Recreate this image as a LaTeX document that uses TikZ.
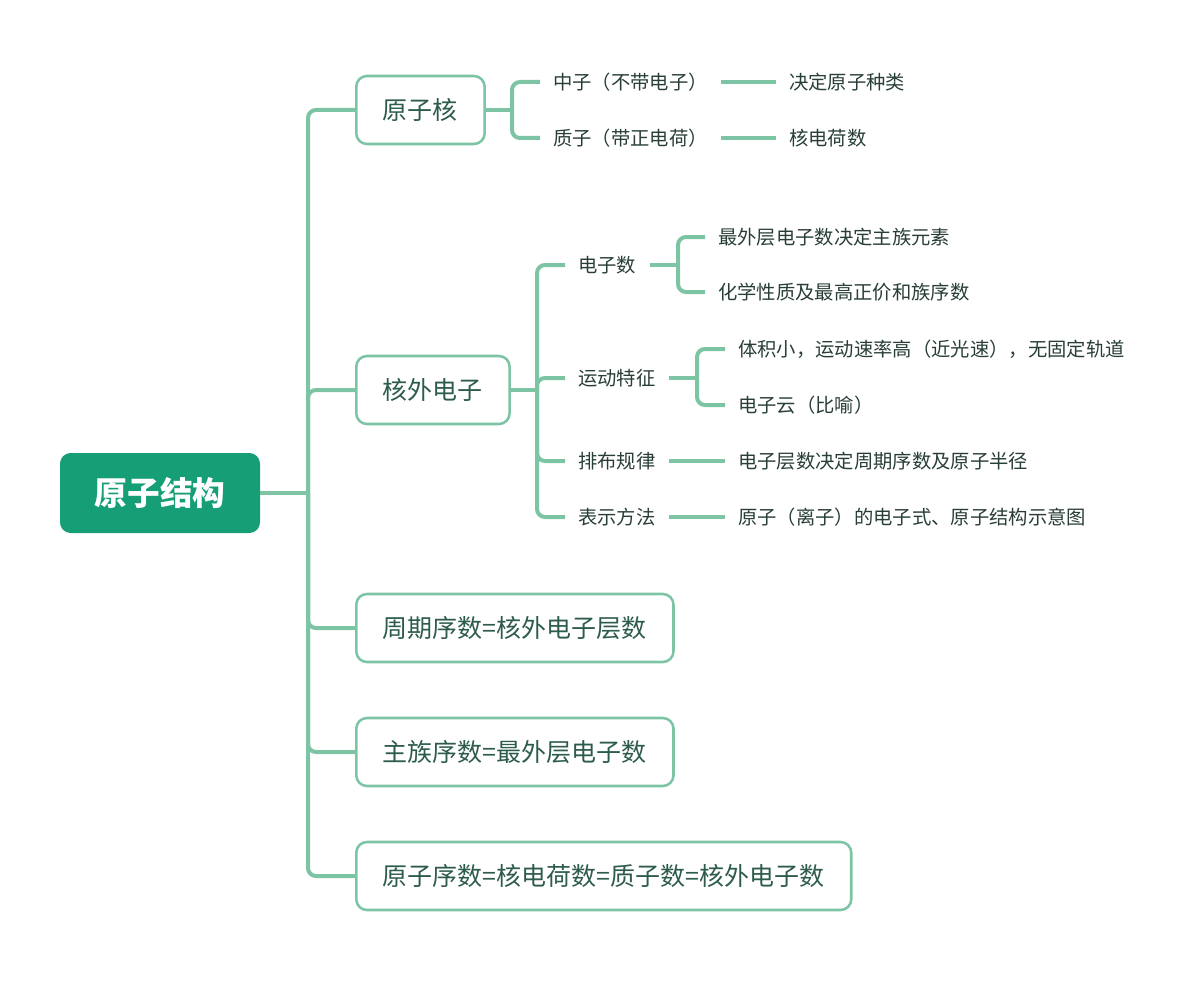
\documentclass[tikz,border=0pt]{standalone}
\usepackage{fontspec}
\setmainfont{Noto Sans CJK SC}
\usepackage{tikz}
\usetikzlibrary{calc, positioning}
\definecolor{linegreen}{RGB}{125,196,165}
\definecolor{rootgreen}{RGB}{22,158,118}
\definecolor{boxtext}{RGB}{46,92,76}
\definecolor{leaftext}{RGB}{40,62,54}
\tikzset{
  link/.style={draw=linegreen, line width=3pt, rounded corners=6pt},
  rootbox/.style={fill=rootgreen, rounded corners=8pt, minimum width=150pt, minimum height=60pt, text=white, font=\fontsize{24.5}{28}\selectfont\bfseries},
  topicbox/.style={draw=linegreen, fill=white, line width=1.9pt, rounded corners=8pt, minimum height=51pt, inner xsep=20pt, text=boxtext, font=\fontsize{18.75}{22}\selectfont},
  leaf/.style={inner xsep=9.75pt, inner ysep=2pt, text=leaftext, font=\fontsize{14.5}{17}\selectfont}
}

\begin{document}
\begin{tikzpicture}[x=0.75pt, y=-0.75pt]
    \useasboundingbox (0,0) rectangle (1192,988);

    %le centre
    \node [rootbox] (root) at (160,493) {原子结构};

    %les branches principales
    \node [topicbox, anchor=west] (nucleus) at (355,110) {原子核};
    \node [topicbox, anchor=west] (electrons) at (355,390) {核外电子};
    \node [topicbox, anchor=west] (period) at (355,628) {周期序数=核外电子层数};
    \node [topicbox, anchor=west] (group) at (355,752) {主族序数=最外层电子数};
    \node [topicbox, anchor=west] (atomicno) at (355,876) {原子序数=核电荷数=质子数=核外电子数};

    %le tronc
    \coordinate (trunk) at (308,493);
    \draw [link] (root.east) -- (trunk);
    \foreach \b in {nucleus, electrons, period, group, atomicno}
      \draw [link] (trunk) |- (\b.west);

    %noyau
    \node [leaf, anchor=west] (neutron) at (540,82) {中子（不带电子）};
    \node [leaf, anchor=west] (proton) at (540,138) {质子（带正电荷）};
    \node [leaf, anchor=west] (kind) at (776,82) {决定原子种类};
    \node [leaf, anchor=west] (charge) at (776,138) {核电荷数};
    \coordinate (nucj) at (512,110);
    \draw [link] (nucleus.east) -- (nucj);
    \draw [link] (nucj) |- (neutron.west);
    \draw [link] (nucj) |- (proton.west);
    \draw [link] (neutron.east) -- (kind.west);
    \draw [link] (proton.east) -- (charge.west);

    %électrons
    \node [leaf, anchor=west] (ecount) at (565,265) {电子数};
    \node [leaf, anchor=west] (motion) at (565,378) {运动特征};
    \node [leaf, anchor=west] (layout) at (565,461) {排布规律};
    \node [leaf, anchor=west] (notation) at (565,517) {表示方法};
    \coordinate (elecj) at (537,390);
    \draw [link] (electrons.east) -- (elecj);
    \foreach \c in {ecount, motion, layout, notation}
      \draw [link] (elecj) |- (\c.west);

    %nombre d'électrons
    \node [leaf, anchor=west] (outer) at (705,237) {最外层电子数决定主族元素};
    \node [leaf, anchor=west] (chem) at (705,292) {化学性质及最高正价和族序数};
    \coordinate (countj) at (678,265);
    \draw [link] (ecount.east) -- (countj);
    \draw [link] (countj) |- (outer.west);
    \draw [link] (countj) |- (chem.west);

    %mouvement
    \node [leaf, anchor=west] (volume) at (725,349) {体积小，运动速率高（近光速），无固定轨道};
    \node [leaf, anchor=west] (cloud) at (725,405) {电子云（比喻）};
    \coordinate (motionj) at (697,378);
    \draw [link] (motion.east) -- (motionj);
    \draw [link] (motionj) |- (volume.west);
    \draw [link] (motionj) |- (cloud.west);

    %répartition et notation
    \node [leaf, anchor=west] (shells) at (725,461) {电子层数决定周期序数及原子半径};
    \node [leaf, anchor=west] (formula) at (725,517) {原子（离子）的电子式、原子结构示意图};
    \draw [link] (layout.east) -- (shells.west);
    \draw [link] (notation.east) -- (formula.west);
\end{tikzpicture}
\end{document}
